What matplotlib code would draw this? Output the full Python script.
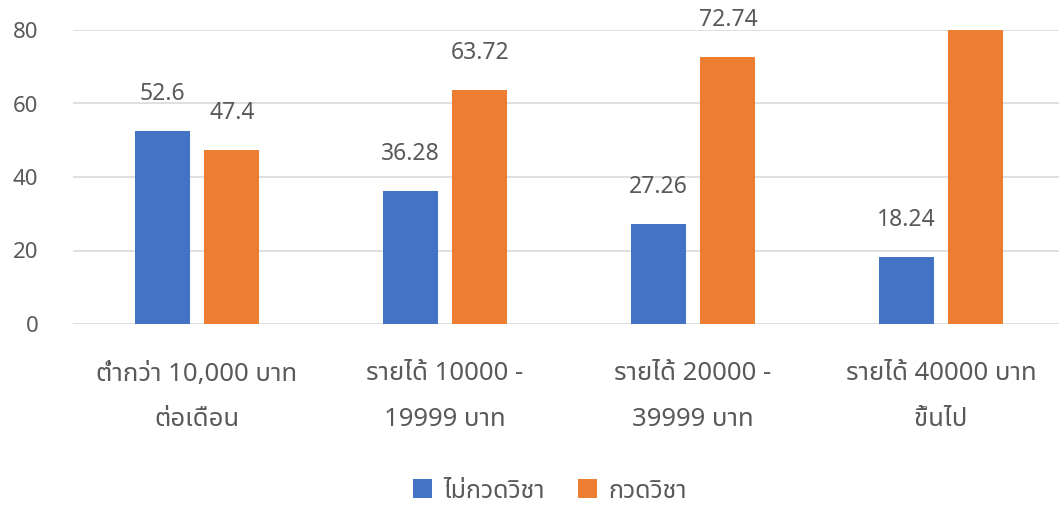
import matplotlib
matplotlib.use("Agg")
import matplotlib.pyplot as plt
from matplotlib import font_manager
from matplotlib.ft2font import FT2Font
from matplotlib.patches import Patch

# ---------------- data ----------------
categories = ["ต่ำกว่า 10,000 บาท\nต่อเดือน",
              "รายได้ 10000 -\n19999 บาท",
              "รายได้ 20000 -\n39999 บาท",
              "รายได้ 40000 บาท\nขึ้นไป"]
series_names = ["ไม่กวดวิชา", "กวดวิชา"]
no_tutoring = [52.6, 36.28, 27.26, 18.24]
tutoring = [47.4, 63.72, 72.74, 81.76]
y_ticks = [0, 20, 40, 60, 80]

# ---------------- find a Thai-capable font ----------------
def find_thai_font():
    preferred = ["Noto Sans Thai", "Noto Sans Thai UI", "Noto Sans Thai Looped",
                 "Sarabun", "Loma", "Garuda", "Waree", "Umpush", "Kinnari",
                 "Norasi", "Tlwg Typo", "Laksaman", "Leelawadee UI", "Tahoma"]
    found = {}
    for f in font_manager.fontManager.ttflist:
        try:
            ft = FT2Font(f.fname)
            if ft.get_char_index(0x0E01) and ft.get_char_index(0x0E32):
                found.setdefault(f.name, f.fname)
        except Exception:
            pass
    for p in preferred:
        if p in found:
            return p
    if found:
        return sorted(found)[0]
    return None

thai_font = find_thai_font()
families = ["Noto Sans"] + ([thai_font] if thai_font else []) + ["DejaVu Sans"]
plt.rcParams["font.family"] = families

text_color = "#595959"
blue = "#4472C4"
orange = "#ED7D31"
grid_color = "#D9D9D9"

fig = plt.figure(figsize=(10.59, 5.08), dpi=100)
ax = fig.add_axes([73 / 1059, (508 - 324) / 508, 992 / 1059, 294 / 508])

x = list(range(len(categories)))
bw = 0.222
off = 0.141
b1 = ax.bar([i - off for i in x], no_tutoring, width=bw, color=blue, zorder=3)
b2 = ax.bar([i + off for i in x], tutoring, width=bw, color=orange, zorder=3)

ax.set_xlim(-0.5, len(categories) - 0.5)
ax.set_ylim(0, 80)
ax.set_yticks(y_ticks)
ax.yaxis.grid(True, color=grid_color, linewidth=1.2, zorder=0)
ax.set_axisbelow(True)
for s in ax.spines.values():
    s.set_visible(False)
ax.tick_params(axis="y", length=0, pad=25, labelsize=16, labelcolor=text_color)
ax.tick_params(axis="x", length=0, pad=27, labelsize=18.5, labelcolor=text_color)
ax.set_xticks(x)
ax.set_xticklabels(categories, linespacing=2.1)

for bars, vals in ((b1, no_tutoring), (b2, tutoring)):
    for rect, v in zip(bars, vals):
        ax.annotate(f"{v:g}", xy=(rect.get_x() + rect.get_width() / 2, v),
                    xytext=(0, 26.5), textcoords="offset points",
                    ha="center", va="center", fontsize=16.5, color=text_color,
                    annotation_clip=True)

handles = [Patch(facecolor=blue, label=series_names[0]),
           Patch(facecolor=orange, label=series_names[1])]
fig.legend(handles=handles, loc="center", bbox_to_anchor=(550 / 1059, 17 / 508),
           ncol=2, frameon=False, fontsize=18, labelcolor=text_color,
           borderpad=0.2,
           handlelength=0.75, handleheight=0.8, handletextpad=0.48, columnspacing=1.3)

fig.savefig("out.png", dpi=100)
